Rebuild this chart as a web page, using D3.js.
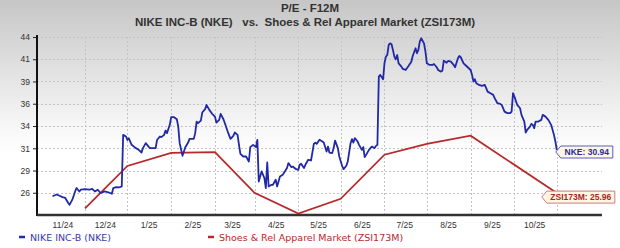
<!DOCTYPE html>
<html>
<head>
<meta charset="utf-8">
<script src="https://cdn.jsdelivr.net/npm/d3@7"></script>
<style>
  body { margin: 0; background: #fff; }
  svg { display: block; }
</style>
</head>
<body>
<svg id="chart" width="620" height="248"></svg>
<script>
// NKE forward P/E
var nkeDates = ["2024-10-25","2024-10-28","2024-10-30","2024-11-01","2024-11-03","2024-11-05","2024-11-06","2024-11-08","2024-11-10","2024-11-11",
  "2024-11-13","2024-11-14","2024-11-17","2024-11-20","2024-11-22","2024-11-24","2024-11-26","2024-11-28","2024-12-01","2024-12-04",
  "2024-12-06","2024-12-07","2024-12-09","2024-12-11","2024-12-13","2024-12-14","2024-12-16","2024-12-17","2024-12-18","2024-12-20",
  "2024-12-23","2024-12-25","2024-12-27","2024-12-28","2024-12-30","2025-01-01","2025-01-02","2025-01-04","2025-01-06","2025-01-07",
  "2025-01-09","2025-01-10","2025-01-12","2025-01-13","2025-01-14","2025-01-16","2025-01-17","2025-01-19","2025-01-21","2025-01-22",
  "2025-01-23","2025-01-25","2025-01-26","2025-01-27","2025-01-29","2025-01-30","2025-02-02","2025-02-03","2025-02-04","2025-02-05",
  "2025-02-07","2025-02-08","2025-02-10","2025-02-11","2025-02-13","2025-02-15","2025-02-17","2025-02-18","2025-02-20","2025-02-21",
  "2025-02-23","2025-02-24","2025-02-26","2025-02-28","2025-03-02","2025-03-03","2025-03-05","2025-03-06","2025-03-07","2025-03-09",
  "2025-03-11","2025-03-13","2025-03-14","2025-03-16","2025-03-18","2025-03-19","2025-03-20","2025-03-22","2025-03-24","2025-03-25",
  "2025-03-26","2025-03-27","2025-03-29","2025-03-30","2025-04-01","2025-04-02","2025-04-04","2025-04-06","2025-04-09","2025-04-10",
  "2025-04-12","2025-04-13","2025-04-15","2025-04-17","2025-04-18","2025-04-19","2025-04-21","2025-04-22","2025-04-24","2025-04-26",
  "2025-04-28","2025-04-29","2025-04-30","2025-05-02","2025-05-04","2025-05-05","2025-05-07","2025-05-08","2025-05-09","2025-05-11",
  "2025-05-12","2025-05-13","2025-05-15","2025-05-16","2025-05-18","2025-05-19","2025-05-21","2025-05-22","2025-05-24","2025-05-25",
  "2025-05-26","2025-05-27","2025-05-29","2025-05-30","2025-06-01","2025-06-02","2025-06-03","2025-06-04","2025-06-06","2025-06-08",
  "2025-06-10","2025-06-11","2025-06-12","2025-06-13","2025-06-14","2025-06-16","2025-06-17","2025-06-18","2025-06-19","2025-06-20",
  "2025-06-21","2025-06-22","2025-06-23","2025-06-24","2025-06-25","2025-06-26","2025-06-27","2025-06-29","2025-06-30","2025-07-02",
  "2025-07-04","2025-07-06","2025-07-07","2025-07-09","2025-07-10","2025-07-11","2025-07-12","2025-07-13","2025-07-15","2025-07-16",
  "2025-07-17","2025-07-19","2025-07-21","2025-07-22","2025-07-24","2025-07-25","2025-07-27","2025-07-28","2025-07-29","2025-07-31",
  "2025-08-01","2025-08-03","2025-08-05","2025-08-06","2025-08-08","2025-08-09","2025-08-10","2025-08-12","2025-08-14","2025-08-17",
  "2025-08-18","2025-08-19","2025-08-20","2025-08-21","2025-08-23","2025-08-25","2025-08-27","2025-08-28","2025-08-29","2025-08-31",
  "2025-09-02","2025-09-03","2025-09-05","2025-09-07","2025-09-08","2025-09-10","2025-09-12","2025-09-14","2025-09-15","2025-09-16",
  "2025-09-17","2025-09-19","2025-09-21","2025-09-22","2025-09-24","2025-09-25","2025-09-26","2025-09-28","2025-09-29","2025-09-30",
  "2025-10-01","2025-10-02","2025-10-04","2025-10-06","2025-10-07","2025-10-09","2025-10-11","2025-10-13","2025-10-15","2025-10-16",
  "2025-10-17"];
var nkeValues = [25.6,25.8,25.65,25.5,25.4,24.85,24.6,25.2,26.15,26.55,
  26.15,26.35,26.43,26.35,26.46,26.15,26.35,25.97,26.15,26.03,
  25.88,26.54,26.66,26.61,26.73,32.69,32.5,32.1,32.3,31.54,
  31.16,30.96,30.65,31.16,31.73,31.34,31.16,31.16,31.16,32.1,
  32.5,32.43,32.69,33.19,32.89,33.85,34.73,34.73,34.5,33.65,
  31.73,30.27,30.77,31.27,31.8,32.23,32.23,32.89,34.23,34.04,
  34.34,35.27,35.66,36.15,35.58,35.12,34.8,34.11,34.42,35.12,
  34.5,34.04,33.07,32.23,32.58,32.96,32.69,31.54,30.5,30.19,
  30.19,29.61,31.27,31.54,31.27,32.12,27.3,28.46,27.7,26.54,
  29.5,26.73,26.92,26.92,27.5,26.73,27.88,28.08,28.85,29.43,
  28.97,29.03,28.77,28.65,29.23,29.35,28.85,29.23,29.81,29.73,
  31.65,31.8,31.65,32.12,31.92,31.8,30.77,31.34,30.65,30.58,
  31.16,32.03,31.16,30.19,29.12,28.73,29.12,29.61,31.73,32.2,
  31.8,32.31,31.92,31.54,30.96,31.27,30.12,30.38,30.96,31.34,
  31.16,31.42,31.54,39.42,39.62,39.12,40.96,41.73,41.92,43.08,
  43.27,43.16,42.5,41.73,41.43,41.92,40.96,40.57,40.31,40.19,
  40.65,41.15,41.81,42.7,42.12,42.5,43.46,43.85,43.27,42.3,
  40.96,40.77,40.77,40.88,40.5,40.19,40.0,40.11,41.27,41.03,
  41.23,41.15,40.77,40.5,41.54,41.81,41.66,40.96,40.65,40.19,
  39.62,38.84,39.12,38.66,38.46,38.35,38.46,38.08,37.69,37.5,
  37.31,36.93,36.35,36.27,36.15,35.38,35.2,35.2,35.38,37.5,
  37.11,36.15,35.77,35.0,34.23,32.96,33.27,33.65,33.96,33.85,
  33.46,34.23,34.23,34.42,35.0,34.8,34.42,33.85,32.69,31.92,
  30.94];

// Shoes & Rel Apparel Market (ZSI173M)
var zsiDates = ["2024-11-17","2024-12-17","2025-01-17","2025-02-17","2025-03-17","2025-04-17",
  "2025-05-17","2025-06-17","2025-07-17","2025-08-17","2025-10-17"];
var zsiValues = [24.2,29.1,30.6,30.7,26.0,23.6,25.3,30.4,31.65,32.6,25.96];

var monthTicks = ["2024-11-01","2024-12-01","2025-01-01","2025-02-01","2025-03-01","2025-04-01",
  "2025-05-01","2025-06-01","2025-07-01","2025-08-01","2025-09-01","2025-10-01"];
var monthLabels = ["11/24","12/24","1/25","2/25","3/25","4/25","5/25","6/25","7/25","8/25","9/25","10/25"];
var gridDates = ["2024-11-17","2024-12-17","2025-01-17","2025-02-17","2025-03-17","2025-04-17",
  "2025-05-17","2025-06-17","2025-07-17","2025-08-17","2025-09-17","2025-10-17"];

var yTickValues = [26, 28.57, 31.14, 33.71, 36.29, 38.86, 41.43, 44];
var yTickLabels = ["26","29","31","34","36","39","41","44"];

var chartTitle = "P/E - F12M";
var chartSubtitle = "NIKE INC-B (NKE)   vs.  Shoes & Rel Apparel Market (ZSI173M)";
var seriesNames = ["NIKE INC-B (NKE)", "Shoes & Rel Apparel Market (ZSI173M)"];
var endLabels = ["NKE: 30.94", "ZSI173M: 25.96"];

var parse = d3.timeParse("%Y-%m-%d");
var nke = nkeDates.map(function(d, i) { return { date: parse(d), value: nkeValues[i] }; });
var zsi = zsiDates.map(function(d, i) { return { date: parse(d), value: zsiValues[i] }; });

// plot box (note: "top" is a reserved window property, so prefix these)
var plotLeft = 37, plotRight = 602, plotTop = 37, plotBottom = 215;

var svg = d3.select("#chart");

// background gradient
var defs = svg.append("defs");
var grad = defs.append("linearGradient").attr("id", "bg")
  .attr("x1", 0).attr("y1", 0).attr("x2", 0).attr("y2", 1);
grad.append("stop").attr("offset", "0%").attr("stop-color", "#c6c6c6");
grad.append("stop").attr("offset", "50%").attr("stop-color", "#f6f6f6");
grad.append("stop").attr("offset", "62%").attr("stop-color", "#ffffff");
svg.append("rect").attr("width", 620).attr("height", 248).attr("fill", "url(#bg)");

var x = d3.scaleTime()
  .domain([parse("2024-10-14"), parse("2025-11-18")])
  .range([plotLeft, plotRight]);
var y = d3.scaleLinear()
  .domain([23.43, 44])
  .range([plotBottom, plotTop]);

// grid
svg.append("g").selectAll("line")
  .data(yTickValues)
  .enter().append("line")
  .attr("x1", plotLeft).attr("x2", plotRight)
  .attr("y1", function(d) { return Math.round(y(d)) + 0.5; })
  .attr("y2", function(d) { return Math.round(y(d)) + 0.5; })
  .attr("stroke", "#c4c4c4").attr("stroke-dasharray", "2,2");

svg.append("g").selectAll("line")
  .data(gridDates.map(parse))
  .enter().append("line")
  .attr("x1", function(d) { return Math.round(x(d)) + 0.5; })
  .attr("x2", function(d) { return Math.round(x(d)) + 0.5; })
  .attr("y1", plotTop).attr("y2", plotBottom)
  .attr("stroke", "#c4c4c4").attr("stroke-dasharray", "2,2");

// y axis
var yAxis = d3.axisLeft(y)
  .tickValues(yTickValues)
  .tickFormat(function(d, i) { return yTickLabels[i]; })
  .tickSize(4)
  .tickPadding(3);
var gy = svg.append("g").attr("transform", "translate(" + plotLeft + ",0)").call(yAxis);
gy.select(".domain").remove();
gy.selectAll(".tick line").attr("stroke", "#222");
gy.selectAll("text").attr("fill", "#333")
  .style("font-family", "'Liberation Sans', Arial, sans-serif").style("font-size", "8.5px");
svg.append("line").attr("x1", plotLeft).attr("x2", plotLeft).attr("y1", plotTop - 2).attr("y2", plotBottom + 1)
  .attr("stroke", "#111").attr("stroke-width", 2);

// x axis
var xAxis = d3.axisBottom(x)
  .tickValues(monthTicks.map(parse))
  .tickFormat(function(d, i) { return monthLabels[i]; })
  .tickSize(0)
  .tickPadding(7);
var gx = svg.append("g").attr("transform", "translate(0," + plotBottom + ")").call(xAxis);
gx.select(".domain").remove();
gx.selectAll("text").attr("fill", "#333")
  .style("font-family", "'Liberation Sans', Arial, sans-serif").style("font-size", "8.5px");
svg.append("line").attr("x1", plotLeft).attr("x2", plotRight).attr("y1", plotBottom).attr("y2", plotBottom)
  .attr("stroke", "#333").attr("stroke-width", 2.5);

// lines
var line = d3.line()
  .x(function(d) { return x(d.date); })
  .y(function(d) { return y(d.value); });

svg.append("path").datum(zsi)
  .attr("d", line)
  .attr("fill", "none").attr("stroke", "#b8282a").attr("stroke-width", 1.8);

svg.append("path").datum(nke)
  .attr("d", line)
  .attr("fill", "none").attr("stroke", "#2129a6").attr("stroke-width", 1.8)
  .attr("stroke-linejoin", "round");

// end labels
function endLabel(tipX, tipY, w, text, stroke, color) {
  var h = 12;
  var g = svg.append("g");
  g.append("path")
    .attr("d", "M" + tipX + "," + tipY +
      " L" + (tipX + 5) + "," + (tipY - h / 2) +
      " L" + (tipX + w) + "," + (tipY - h / 2) +
      " L" + (tipX + w) + "," + (tipY + h / 2) +
      " L" + (tipX + 5) + "," + (tipY + h / 2) + " Z")
    .attr("fill", "#fdf8e2").attr("stroke", stroke).attr("stroke-width", 1);
  g.append("text")
    .attr("x", tipX + 5 + (w - 5) / 2).attr("y", tipY + 3.2)
    .attr("text-anchor", "middle")
    .attr("fill", color)
    .style("font-family", "'Liberation Sans', Arial, sans-serif")
    .style("font-size", "8.5px").style("font-weight", "bold")
    .text(text);
}
var nkeLast = nke[nke.length - 1], zsiLast = zsi[zsi.length - 1];
endLabel(x(nkeLast.date) - 1, y(nkeLast.value) + 2, 57, endLabels[0], "#5a5ac8", "#2b2b9a");
endLabel(x(zsiLast.date) - 15, y(zsiLast.value) + 4, 73, endLabels[1], "#d07a7a", "#a82626");

// titles
svg.append("text").attr("x", 310).attr("y", 12).attr("text-anchor", "middle")
  .attr("fill", "#333")
  .style("font-family", "'Liberation Sans', Arial, sans-serif")
  .style("font-size", "11.5px").style("font-weight", "bold")
  .text(chartTitle);
svg.append("text").attr("x", 305).attr("y", 26).attr("text-anchor", "middle")
  .attr("fill", "#333").style("white-space", "pre")
  .style("font-family", "'Liberation Sans', Arial, sans-serif")
  .style("font-size", "11.5px").style("font-weight", "bold")
  .text(chartSubtitle);

// legend
var legend = [
  { x: 19, name: seriesNames[0], color: "#2129a6", text: "#3a3ab0" },
  { x: 208, name: seriesNames[1], color: "#b8282a", text: "#b8282a" }
];
var lg = svg.append("g").selectAll("g").data(legend).enter().append("g");
lg.append("line")
  .attr("x1", function(d) { return d.x; }).attr("x2", function(d) { return d.x + 6; })
  .attr("y1", 237).attr("y2", 237)
  .attr("stroke", function(d) { return d.color; }).attr("stroke-width", 2.5);
lg.append("text")
  .attr("x", function(d) { return d.x + 11; }).attr("y", 240.5)
  .attr("fill", function(d) { return d.text; })
  .style("font-family", "'DejaVu Sans', Verdana, sans-serif").style("font-size", "9.5px")
  .text(function(d) { return d.name; });
</script>
</body>
</html>
